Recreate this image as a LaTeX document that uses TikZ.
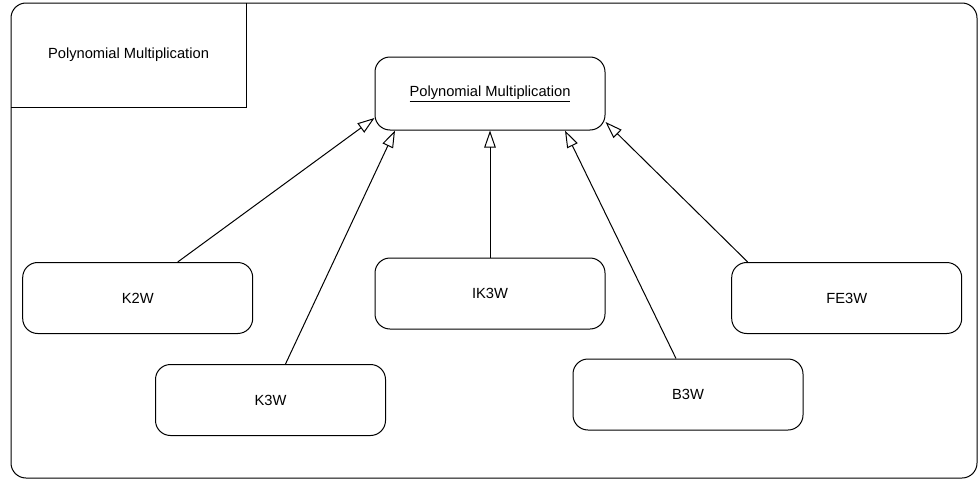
\documentclass[tikz,border=0pt]{standalone}
\usepackage{fontspec}
\setmainfont{Liberation Sans}
\usetikzlibrary{arrows.meta}
\begin{document}
\begin{tikzpicture}[x=1pt,y=-1pt,
  line width=1pt,
  box/.style={draw, rounded corners=15pt, minimum width=230pt, minimum height=71pt,
    inner sep=0pt, font=\fontsize{14.7}{17}\selectfont},
  gen/.style={draw, -{Triangle[open,length=17pt,width=11.5pt]}}]
  \useasboundingbox (0,0) rectangle (978,479);
  % outer frame and its name tab
  \draw[rounded corners=15pt] (11,3) rectangle (977,478);
  \draw (11,107) -- (246,107) -- (246,3);
  \node[font=\fontsize{14.7}{17}\selectfont] (title) at (128.5,55) {Polynomial Multiplication};
  % classes
  \node[box, minimum height=73pt] (pm) at (490,93.5) {\underline{Polynomial Multiplication}};
  \node[box] (k2w) at (137.7,298) {K2W};
  \node[box] (k3w) at (270.5,400) {K3W};
  \node[box] (ik3w) at (490,293.5) {IK3W};
  \node[box] (b3w) at (688,394.5) {B3W};
  \node[box] (fe3w) at (846.7,298) {FE3W};
  % generalisations
  \draw[gen] ([xshift=40pt]k2w.north) -- ([yshift=-24.5pt]pm.west);
  \draw[gen] ([xshift=15pt]k3w.north) -- ([xshift=-95pt]pm.south);
  \draw[gen] (ik3w.north) -- (pm.south);
  \draw[gen] ([xshift=-12pt]b3w.north) -- ([xshift=75pt]pm.south);
  \draw[gen] ([xshift=-99pt]fe3w.north) -- ([yshift=-28.5pt]pm.east);
\end{tikzpicture}
\end{document}
